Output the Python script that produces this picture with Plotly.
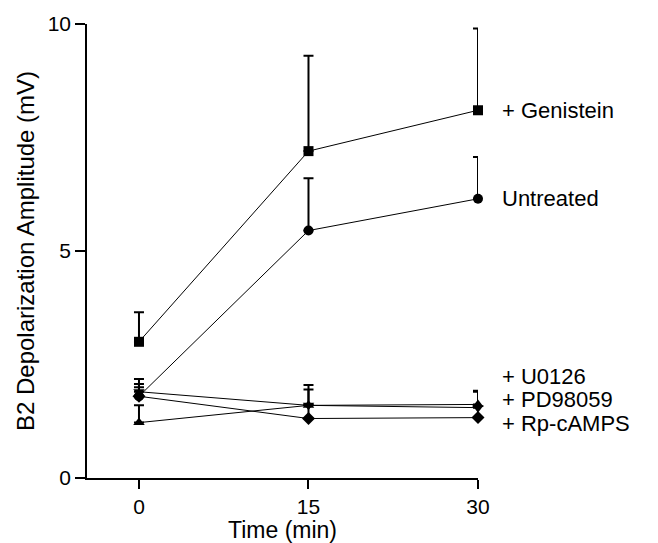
import plotly.graph_objects as go

time_min = [0, 15, 30]

genistein = [3.0, 7.2, 8.1]
genistein_err = [0.65, 2.1, 1.8]

untreated = [1.8, 5.45, 6.15]
untreated_err = [0.38, 1.15, 0.92]

u0126 = [1.22, 1.6, 1.62]
u0126_err = [0.38, 0.45, 0.3]

pd98059 = [1.9, 1.6, 1.55]
pd98059_err = [0.1, 0.35, 0.35]

rpcamps = [1.8, 1.31, 1.33]
rpcamps_err = [0.27, 0.3, 0.25]

series = [
    ("+ Genistein", genistein, genistein_err, "square"),
    ("Untreated", untreated, untreated_err, "circle"),
    ("+ U0126", u0126, u0126_err, "triangle-up"),
    ("+ PD98059", pd98059, pd98059_err, "triangle-down"),
    ("+ Rp-cAMPS", rpcamps, rpcamps_err, "diamond"),
]

label_y = [8.1, 6.15, 2.24, 1.72, 1.2]

font_family = "Liberation Sans, Arial, sans-serif"
fs_tick = 21
fs_label = 22
fs_title = 23

fig = go.Figure()
for name, ys, errs, sym in series:
    fig.add_trace(go.Scatter(
        x=time_min, y=ys, mode="lines+markers", name=name,
        line=dict(color="black", width=1),
        marker=dict(symbol=sym, size=10, color="black"),
        error_y=dict(type="data", array=errs, arrayminus=[0]*len(errs),
                     symmetric=False, color="black", thickness=2, width=5),
        cliponaxis=False, showlegend=False,
    ))

for (name, ys, errs, sym), ly in zip(series, label_y):
    fig.add_annotation(x=1.056, xref="paper", y=ly, yref="y", text=name,
                       showarrow=False, xanchor="left", yanchor="middle",
                       font=dict(size=fs_label, color="black", family=font_family))

# x-axis title placed just under the tick labels
fig.add_annotation(x=0.5, xref="paper", y=-0.1155, yref="paper",
                   text="Time (min)", showarrow=False,
                   xanchor="center", yanchor="middle",
                   font=dict(size=fs_title, color="black", family=font_family))

fig.update_layout(
    width=658, height=543,
    margin=dict(l=87, r=180, t=20, b=65),
    plot_bgcolor="white", paper_bgcolor="white",
    font=dict(family=font_family, size=fs_tick, color="black"),
    xaxis=dict(range=[-4.6, 30], tickvals=[0, 15, 30], showgrid=False,
               zeroline=False, showline=True, linecolor="black", linewidth=1.5,
               ticks="outside", ticklen=9, tickwidth=1.5, tickcolor="black",
               tickfont=dict(size=fs_tick)),
    yaxis=dict(range=[0, 10], tickvals=[0, 5, 10], showgrid=False,
               zeroline=False, showline=True, linecolor="black", linewidth=1.5,
               ticks="outside", ticklen=10, tickwidth=1.5, tickcolor="black",
               title=dict(text="B2 Depolarization Amplitude (mV)", standoff=6,
                          font=dict(size=fs_title + 1)),
               tickfont=dict(size=fs_tick)),
)

fig.write_html("out.html", config={"displayModeBar": False},
               post_script="document.body.style.margin='0';document.body.style.overflow='hidden';")
